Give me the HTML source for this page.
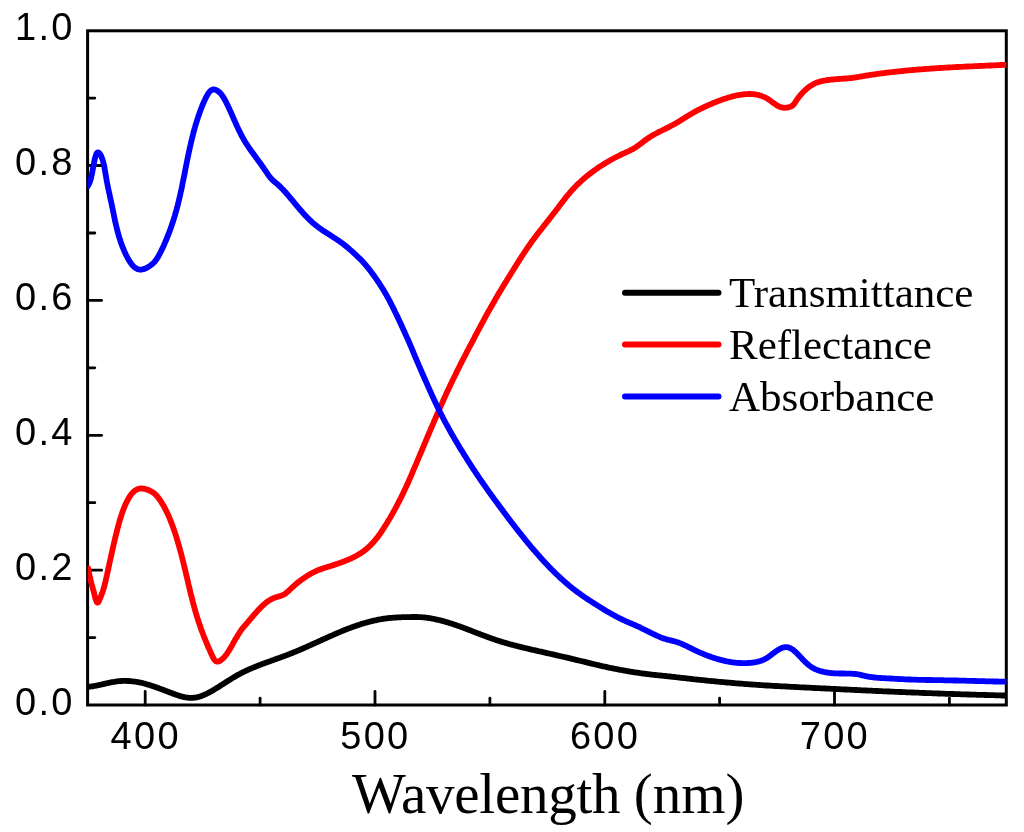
<!DOCTYPE html>
<html><head><meta charset="utf-8"><style>
html,body{margin:0;padding:0;background:#fff;width:1024px;height:832px;overflow:hidden}
svg{display:block;will-change:transform}
.sans{font-family:"Liberation Sans",sans-serif;font-size:38px;fill:#000;letter-spacing:2.3px}
.serif{font-family:"Liberation Serif",serif;fill:#000}
</style></head><body>
<svg width="1024" height="832" viewBox="0 0 1024 832">
<rect width="1024" height="832" fill="#fff"/>
<defs><clipPath id="pc"><rect x="87.6" y="30.8" width="918.7" height="674.2"/></clipPath></defs>
<g stroke="#000" stroke-width="2.8" stroke-linecap="round">
<line x1="145.2" y1="705.0" x2="145.2" y2="691.5"/>
<line x1="260.1" y1="705.0" x2="260.1" y2="698.2"/>
<line x1="375.0" y1="705.0" x2="375.0" y2="691.5"/>
<line x1="489.9" y1="705.0" x2="489.9" y2="698.2"/>
<line x1="604.8" y1="705.0" x2="604.8" y2="691.5"/>
<line x1="719.6" y1="705.0" x2="719.6" y2="698.2"/>
<line x1="834.5" y1="705.0" x2="834.5" y2="691.5"/>
<line x1="949.4" y1="705.0" x2="949.4" y2="698.2"/>
<line x1="87.6" y1="637.6" x2="94.8" y2="637.6"/>
<line x1="87.6" y1="570.2" x2="101.6" y2="570.2"/>
<line x1="87.6" y1="502.7" x2="94.8" y2="502.7"/>
<line x1="87.6" y1="435.3" x2="101.6" y2="435.3"/>
<line x1="87.6" y1="367.8" x2="94.8" y2="367.8"/>
<line x1="87.6" y1="300.4" x2="101.6" y2="300.4"/>
<line x1="87.6" y1="233.0" x2="94.8" y2="233.0"/>
<line x1="87.6" y1="165.5" x2="101.6" y2="165.5"/>
<line x1="87.6" y1="98.1" x2="94.8" y2="98.1"/>
</g>
<rect x="87.6" y="30.8" width="918.7" height="674.2" fill="none" stroke="#000" stroke-width="3"/>
<g fill="none" stroke-width="5.8" stroke-linejoin="round" stroke-linecap="round" clip-path="url(#pc)">
<path stroke="#000" d="M83.84 686.95L84.5 687.0L85.1 687.0L85.8 686.9L86.4 686.9L87.1 686.9L87.7 686.9L88.3 686.8L89.0 686.8L89.6 686.7L90.3 686.6L90.9 686.5L91.6 686.4L92.2 686.4L92.9 686.3L93.5 686.1L94.2 686.0L94.8 685.9L95.5 685.8L96.1 685.7L96.8 685.5L97.4 685.4L98.1 685.3L98.8 685.1L99.4 685.0L100.1 684.8L100.7 684.7L101.4 684.5L102.0 684.4L102.7 684.2L103.3 684.1L104.0 683.9L104.6 683.8L105.3 683.6L105.9 683.5L106.6 683.3L107.2 683.2L107.9 683.0L108.5 682.9L109.2 682.7L109.9 682.6L110.5 682.5L111.2 682.3L111.8 682.2L112.5 682.1L113.1 682.0L113.8 681.9L114.4 681.8L115.1 681.7L115.7 681.6L116.3 681.5L117.0 681.4L117.6 681.3L118.3 681.2L118.9 681.2L119.6 681.1L120.2 681.1L120.9 681.0L121.5 681.0L122.1 681.0L122.8 680.9L123.4 680.9L124.1 680.9L124.7 680.9L125.4 680.9L126.0 680.9L126.6 680.9L127.3 681.0L127.9 681.0L128.6 681.0L129.2 681.0L129.8 681.1L130.5 681.1L131.1 681.2L131.8 681.3L132.4 681.3L133.0 681.4L133.7 681.5L134.3 681.6L135.0 681.6L135.6 681.7L136.3 681.8L136.9 681.9L137.5 682.1L138.2 682.2L138.8 682.3L139.5 682.4L140.1 682.6L140.8 682.7L141.4 682.8L142.1 683.0L142.7 683.1L143.3 683.3L144.0 683.5L144.6 683.6L145.3 683.8L145.9 684.0L146.6 684.2L147.2 684.4L147.9 684.6L148.5 684.7L149.2 684.9L149.8 685.1L150.5 685.4L151.1 685.6L151.8 685.8L152.4 686.0L153.1 686.2L153.7 686.4L154.4 686.6L155.0 686.9L155.6 687.1L156.3 687.3L156.9 687.6L157.6 687.8L158.2 688.0L158.9 688.3L159.5 688.5L160.2 688.7L160.8 689.0L161.4 689.2L162.1 689.5L162.7 689.7L163.4 689.9L164.0 690.2L164.6 690.4L165.3 690.7L165.9 690.9L166.5 691.2L167.2 691.4L167.8 691.6L168.4 691.9L169.1 692.1L169.7 692.4L170.3 692.6L171.0 692.8L171.6 693.1L172.2 693.3L172.8 693.6L173.5 693.8L174.1 694.0L174.7 694.2L175.3 694.5L175.9 694.7L176.6 694.9L177.2 695.1L177.8 695.3L178.4 695.5L179.0 695.7L179.6 695.9L180.3 696.1L180.9 696.3L181.5 696.5L182.1 696.6L182.7 696.8L183.4 696.9L184.0 697.1L184.6 697.2L185.2 697.3L185.8 697.4L186.5 697.5L187.1 697.6L187.7 697.7L188.3 697.7L189.0 697.8L189.6 697.8L190.2 697.9L190.8 697.9L191.5 697.9L192.1 697.9L192.7 697.8L193.4 697.8L194.0 697.7L194.7 697.7L195.3 697.6L195.9 697.5L196.6 697.4L197.2 697.2L197.9 697.1L198.5 696.9L199.2 696.7L199.9 696.5L200.5 696.3L201.2 696.1L201.9 695.8L202.5 695.6L203.2 695.3L203.9 695.0L204.6 694.7L205.2 694.4L205.9 694.1L206.6 693.8L207.3 693.4L208.0 693.1L208.7 692.7L209.4 692.3L210.1 692.0L210.8 691.6L211.5 691.2L212.2 690.8L212.9 690.4L213.6 689.9L214.3 689.5L215.0 689.1L215.8 688.6L216.5 688.2L217.2 687.7L218.0 687.3L218.7 686.8L219.4 686.3L220.2 685.9L220.9 685.4L221.6 684.9L222.4 684.4L223.1 684.0L223.9 683.5L224.7 683.0L225.4 682.5L226.2 682.0L227.0 681.5L227.7 681.0L228.5 680.5L229.3 680.1L230.1 679.6L230.8 679.1L231.6 678.6L232.4 678.1L233.2 677.6L234.0 677.2L234.8 676.7L235.6 676.2L236.4 675.8L237.2 675.3L238.0 674.8L238.9 674.4L239.7 674.0L240.5 673.5L241.3 673.1L242.2 672.7L243.0 672.2L243.8 671.8L244.7 671.4L245.5 671.0L246.4 670.6L247.2 670.2L248.1 669.8L248.9 669.4L249.8 669.1L250.7 668.7L251.5 668.3L252.4 667.9L253.2 667.6L254.1 667.2L255.0 666.9L255.9 666.5L256.7 666.2L257.6 665.8L258.5 665.5L259.4 665.1L260.3 664.8L261.1 664.5L262.0 664.1L262.9 663.8L263.8 663.5L264.7 663.1L265.6 662.8L266.5 662.5L267.4 662.2L268.3 661.8L269.2 661.5L270.1 661.2L270.9 660.9L271.8 660.5L272.7 660.2L273.6 659.9L274.5 659.6L275.4 659.3L276.3 658.9L277.2 658.6L278.1 658.3L279.0 658.0L279.9 657.7L280.8 657.3L281.7 657.0L282.6 656.7L283.5 656.3L284.4 656.0L285.3 655.7L286.2 655.3L287.1 655.0L287.9 654.7L288.8 654.3L289.7 654.0L290.6 653.6L291.5 653.3L292.4 652.9L293.3 652.6L294.1 652.2L295.0 651.8L295.9 651.5L296.8 651.1L297.7 650.7L298.5 650.4L299.4 650.0L300.3 649.6L301.2 649.3L302.0 648.9L302.9 648.5L303.8 648.1L304.6 647.7L305.5 647.3L306.4 647.0L307.3 646.6L308.1 646.2L309.0 645.8L309.9 645.4L310.7 645.0L311.6 644.6L312.4 644.2L313.3 643.8L314.2 643.5L315.0 643.1L315.9 642.7L316.8 642.3L317.6 641.9L318.5 641.5L319.4 641.1L320.2 640.7L321.1 640.3L321.9 639.9L322.8 639.5L323.7 639.1L324.5 638.7L325.4 638.4L326.3 638.0L327.1 637.6L328.0 637.2L328.8 636.8L329.7 636.4L330.6 636.0L331.4 635.7L332.3 635.3L333.2 634.9L334.0 634.5L334.9 634.1L335.7 633.8L336.6 633.4L337.5 633.0L338.3 632.7L339.2 632.3L340.1 631.9L340.9 631.6L341.8 631.2L342.7 630.8L343.5 630.5L344.4 630.1L345.3 629.8L346.2 629.4L347.0 629.1L347.9 628.8L348.8 628.4L349.7 628.1L350.5 627.8L351.4 627.4L352.3 627.1L353.2 626.8L354.0 626.5L354.9 626.2L355.8 625.9L356.7 625.6L357.6 625.3L358.5 625.0L359.4 624.7L360.2 624.4L361.1 624.1L362.0 623.8L362.9 623.5L363.8 623.3L364.7 623.0L365.6 622.8L366.5 622.5L367.4 622.3L368.3 622.0L369.2 621.8L370.1 621.5L371.0 621.3L371.9 621.1L372.8 620.9L373.7 620.7L374.7 620.5L375.6 620.3L376.5 620.1L377.4 619.9L378.3 619.7L379.3 619.5L380.2 619.3L381.1 619.2L382.0 619.0L383.0 618.9L383.9 618.7L384.8 618.6L385.8 618.5L386.7 618.4L387.7 618.2L388.6 618.1L389.5 618.0L390.5 617.9L391.4 617.8L392.4 617.8L393.3 617.7L394.3 617.6L395.2 617.6L396.2 617.5L397.1 617.4L398.1 617.4L399.0 617.3L399.9 617.3L400.9 617.3L401.8 617.2L402.7 617.2L403.6 617.2L404.5 617.2L405.5 617.1L406.4 617.1L407.2 617.1L408.1 617.1L409.0 617.1L409.9 617.1L410.7 617.1L411.6 617.0L412.4 617.0L413.3 617.0L414.1 617.0L414.9 617.0L415.7 617.0L416.5 617.0L417.3 617.0L418.2 617.1L419.0 617.1L419.8 617.1L420.6 617.2L421.4 617.2L422.2 617.3L423.1 617.3L423.9 617.4L424.7 617.5L425.6 617.6L426.4 617.7L427.3 617.8L428.2 617.9L429.0 618.1L429.9 618.2L430.8 618.3L431.6 618.5L432.5 618.7L433.4 618.8L434.3 619.0L435.2 619.2L436.0 619.4L436.9 619.6L437.8 619.8L438.7 620.0L439.6 620.2L440.5 620.4L441.4 620.7L442.3 620.9L443.2 621.1L444.1 621.4L445.0 621.6L445.9 621.9L446.8 622.2L447.7 622.4L448.6 622.7L449.5 623.0L450.4 623.3L451.3 623.5L452.1 623.8L453.0 624.1L453.9 624.4L454.8 624.7L455.7 625.0L456.6 625.3L457.5 625.7L458.4 626.0L459.3 626.3L460.2 626.6L461.1 626.9L462.0 627.3L462.9 627.6L463.7 627.9L464.6 628.3L465.5 628.6L466.4 628.9L467.3 629.3L468.2 629.6L469.1 630.0L470.0 630.3L470.9 630.6L471.8 631.0L472.6 631.3L473.5 631.7L474.4 632.0L475.3 632.4L476.2 632.7L477.1 633.1L478.0 633.4L478.9 633.7L479.8 634.1L480.7 634.4L481.6 634.8L482.4 635.1L483.3 635.4L484.2 635.8L485.1 636.1L486.0 636.4L486.9 636.8L487.8 637.1L488.7 637.4L489.6 637.7L490.5 638.1L491.4 638.4L492.3 638.7L493.2 639.0L494.0 639.3L494.9 639.6L495.8 639.9L496.7 640.2L497.6 640.5L498.5 640.8L499.4 641.1L500.3 641.4L501.2 641.6L502.1 641.9L503.0 642.2L503.9 642.5L504.8 642.7L505.7 643.0L506.6 643.2L507.5 643.5L508.4 643.8L509.3 644.0L510.2 644.3L511.2 644.5L512.1 644.8L513.0 645.0L513.9 645.2L514.8 645.5L515.7 645.7L516.6 646.0L517.5 646.2L518.5 646.4L519.4 646.7L520.3 646.9L521.2 647.1L522.2 647.3L523.1 647.6L524.0 647.8L524.9 648.0L525.9 648.2L526.8 648.5L527.8 648.7L528.7 648.9L529.6 649.1L530.6 649.3L531.5 649.6L532.5 649.8L533.4 650.0L534.4 650.2L535.3 650.4L536.3 650.6L537.2 650.9L538.2 651.1L539.2 651.3L540.1 651.5L541.1 651.7L542.1 651.9L543.0 652.2L544.0 652.4L545.0 652.6L546.0 652.8L547.0 653.1L548.0 653.3L549.0 653.5L549.9 653.7L550.9 654.0L551.9 654.2L552.9 654.4L553.9 654.6L555.0 654.9L556.0 655.1L557.0 655.3L558.0 655.6L559.0 655.8L560.0 656.0L561.0 656.3L562.0 656.5L563.0 656.7L564.0 657.0L565.0 657.2L566.1 657.4L567.1 657.7L568.1 657.9L569.1 658.2L570.1 658.4L571.1 658.6L572.1 658.9L573.1 659.1L574.1 659.3L575.1 659.6L576.0 659.8L577.0 660.1L578.0 660.3L579.0 660.5L580.0 660.8L580.9 661.0L581.9 661.2L582.9 661.5L583.8 661.7L584.8 661.9L585.8 662.2L586.7 662.4L587.7 662.7L588.6 662.9L589.6 663.1L590.5 663.3L591.5 663.6L592.5 663.8L593.4 664.0L594.4 664.3L595.3 664.5L596.3 664.7L597.2 665.0L598.2 665.2L599.2 665.4L600.1 665.6L601.1 665.8L602.0 666.1L603.0 666.3L604.0 666.5L605.0 666.7L606.0 666.9L606.9 667.1L607.9 667.4L608.9 667.6L609.9 667.8L610.9 668.0L611.9 668.2L612.9 668.4L613.9 668.6L615.0 668.8L616.0 669.0L617.0 669.2L618.0 669.4L619.0 669.6L620.0 669.8L621.1 670.0L622.1 670.2L623.1 670.4L624.1 670.5L625.2 670.7L626.2 670.9L627.2 671.1L628.2 671.3L629.3 671.4L630.3 671.6L631.3 671.8L632.4 671.9L633.4 672.1L634.4 672.3L635.4 672.4L636.4 672.6L637.5 672.7L638.5 672.9L639.5 673.0L640.5 673.2L641.5 673.3L642.5 673.5L643.5 673.6L644.5 673.7L645.5 673.9L646.5 674.0L647.5 674.1L648.5 674.2L649.5 674.3L650.5 674.5L651.5 674.6L652.4 674.7L653.4 674.8L654.4 674.9L655.3 675.0L656.3 675.1L657.3 675.2L658.2 675.3L659.2 675.4L660.2 675.5L661.2 675.6L662.2 675.7L663.3 675.8L664.3 675.9L665.4 676.0L666.5 676.1L667.6 676.3L668.8 676.4L669.9 676.5L671.1 676.6L672.3 676.8L673.5 676.9L674.7 677.0L676.0 677.2L677.3 677.3L678.5 677.5L679.8 677.6L681.1 677.8L682.5 677.9L683.8 678.1L685.2 678.2L686.5 678.4L687.9 678.6L689.3 678.7L690.6 678.9L692.0 679.0L693.4 679.2L694.8 679.3L696.2 679.5L697.7 679.6L699.1 679.8L700.5 679.9L701.9 680.1L703.4 680.2L704.8 680.4L706.3 680.5L707.7 680.7L709.2 680.8L710.6 681.0L712.1 681.1L713.6 681.2L715.0 681.4L716.5 681.5L718.0 681.7L719.5 681.8L721.0 681.9L722.4 682.1L723.9 682.2L725.4 682.4L726.9 682.5L728.4 682.6L729.9 682.7L731.3 682.9L732.8 683.0L734.3 683.1L735.8 683.3L737.3 683.4L738.8 683.5L740.2 683.6L741.7 683.7L743.2 683.8L744.7 684.0L746.2 684.1L747.6 684.2L749.1 684.3L750.6 684.4L752.0 684.5L753.5 684.6L754.9 684.7L756.4 684.8L757.8 684.9L759.3 685.0L760.7 685.1L762.1 685.2L763.6 685.3L765.0 685.4L766.5 685.5L767.9 685.5L769.4 685.6L770.8 685.7L772.3 685.8L773.8 685.9L775.2 686.0L776.7 686.0L778.2 686.1L779.7 686.2L781.2 686.3L782.7 686.4L784.3 686.4L785.8 686.5L787.4 686.6L788.9 686.7L790.5 686.8L792.1 686.9L793.7 686.9L795.3 687.0L796.9 687.1L798.5 687.2L800.1 687.3L801.7 687.3L803.4 687.4L805.0 687.5L806.6 687.6L808.2 687.7L809.8 687.7L811.4 687.8L813.0 687.9L814.6 688.0L816.2 688.1L817.7 688.1L819.3 688.2L820.8 688.3L822.4 688.4L823.9 688.4L825.4 688.5L826.9 688.6L828.3 688.7L829.8 688.7L831.2 688.8L832.7 688.9L834.1 688.9L835.5 689.0L836.8 689.1L838.2 689.1L839.6 689.2L840.9 689.3L842.3 689.3L843.6 689.4L844.9 689.5L846.2 689.5L847.6 689.6L848.9 689.7L850.1 689.7L851.4 689.8L852.7 689.8L854.0 689.9L855.3 690.0L856.5 690.0L857.8 690.1L859.0 690.1L860.3 690.2L861.5 690.3L862.8 690.3L864.0 690.4L865.3 690.4L866.5 690.5L867.8 690.6L869.0 690.6L870.3 690.7L871.6 690.7L872.8 690.8L874.1 690.9L875.3 690.9L876.6 691.0L877.9 691.0L879.2 691.1L880.4 691.1L881.7 691.2L883.0 691.3L884.3 691.3L885.6 691.4L886.9 691.4L888.2 691.5L889.5 691.5L890.8 691.6L892.1 691.7L893.4 691.7L894.7 691.8L896.0 691.8L897.3 691.9L898.6 691.9L899.9 692.0L901.3 692.0L902.6 692.1L903.9 692.2L905.2 692.2L906.5 692.3L907.8 692.3L909.2 692.4L910.5 692.4L911.8 692.5L913.1 692.5L914.4 692.6L915.7 692.6L917.1 692.7L918.4 692.7L919.7 692.8L921.0 692.8L922.3 692.9L923.6 693.0L924.9 693.0L926.2 693.1L927.5 693.1L928.8 693.1L930.1 693.2L931.4 693.2L932.7 693.3L934.0 693.3L935.3 693.4L936.6 693.4L937.9 693.5L939.2 693.5L940.4 693.6L941.7 693.6L943.0 693.7L944.3 693.7L945.6 693.8L946.9 693.8L948.2 693.8L949.5 693.9L950.8 693.9L952.1 694.0L953.4 694.0L954.7 694.1L956.0 694.1L957.3 694.1L958.6 694.2L959.9 694.2L961.2 694.3L962.5 694.3L963.8 694.4L965.1 694.4L966.4 694.4L967.8 694.5L969.1 694.5L970.4 694.6L971.7 694.6L973.1 694.6L974.4 694.7L975.8 694.7L977.1 694.8L978.5 694.8L979.8 694.8L981.2 694.9L982.5 694.9L983.8 694.9L985.2 695.0L986.5 695.0L987.8 695.1L989.1 695.1L990.4 695.1L991.7 695.2L992.9 695.2L994.1 695.2L995.3 695.3L996.5 695.3L997.7 695.3L998.8 695.4L999.9 695.4L1001.0 695.4L1002.0 695.5L1003.0 695.5L1004.0 695.5L1004.9 695.5L1005.8 695.6L1006.6 695.6L1007.4 695.6L1008.2 695.6L1008.9 695.7L1009.5 695.7L1010.1 695.7"/>
<path stroke="#f00" d="M88.30 568.49L88.5 569.5L88.7 570.5L88.8 571.5L89.0 572.5L89.2 573.5L89.4 574.5L89.6 575.5L89.8 576.4L90.0 577.3L90.2 578.3L90.4 579.1L90.6 580.0L90.8 580.8L91.0 581.6L91.2 582.4L91.4 583.2L91.6 583.9L91.8 584.7L92.0 585.4L92.2 586.1L92.4 586.8L92.5 587.5L92.7 588.1L92.9 588.8L93.1 589.5L93.3 590.3L93.5 591.0L93.8 591.8L94.0 592.6L94.2 593.4L94.4 594.3L94.6 595.3L94.9 596.3L95.1 597.3L95.4 598.3L95.7 599.3L96.0 600.2L96.3 601.0L96.6 601.7L96.9 602.2L97.2 602.6L97.5 602.7L97.8 602.6L98.2 602.3L98.5 601.8L98.9 601.2L99.2 600.5L99.6 599.7L99.9 598.8L100.3 598.0L100.6 597.1L100.9 596.3L101.2 595.6L101.5 594.8L101.7 594.2L102.0 593.5L102.2 592.8L102.5 592.2L102.7 591.6L102.9 590.9L103.1 590.3L103.3 589.7L103.5 589.0L103.7 588.3L103.9 587.6L104.1 587.0L104.3 586.3L104.5 585.6L104.7 584.8L104.9 584.1L105.0 583.4L105.2 582.6L105.4 581.9L105.6 581.1L105.8 580.3L105.9 579.5L106.1 578.7L106.3 577.9L106.5 577.1L106.7 576.3L106.8 575.4L107.0 574.6L107.2 573.7L107.4 572.9L107.6 572.0L107.8 571.1L108.0 570.2L108.2 569.3L108.4 568.4L108.6 567.5L108.8 566.5L109.0 565.6L109.2 564.6L109.4 563.7L109.6 562.7L109.8 561.8L110.0 560.8L110.2 559.8L110.5 558.9L110.7 557.9L110.9 556.9L111.1 555.9L111.3 554.9L111.6 553.9L111.8 552.9L112.0 551.9L112.2 550.9L112.5 549.9L112.7 548.9L112.9 547.8L113.1 546.8L113.4 545.8L113.6 544.8L113.8 543.8L114.1 542.8L114.3 541.7L114.6 540.7L114.8 539.7L115.0 538.7L115.3 537.7L115.5 536.6L115.8 535.6L116.0 534.6L116.3 533.6L116.5 532.6L116.8 531.6L117.0 530.6L117.3 529.6L117.5 528.6L117.8 527.6L118.1 526.7L118.3 525.7L118.6 524.7L118.8 523.7L119.1 522.8L119.4 521.8L119.6 520.9L119.9 519.9L120.2 519.0L120.5 518.0L120.8 517.1L121.1 516.2L121.4 515.2L121.7 514.3L122.0 513.4L122.3 512.5L122.6 511.6L122.9 510.7L123.3 509.9L123.6 509.0L123.9 508.1L124.3 507.3L124.6 506.4L125.0 505.6L125.4 504.7L125.7 503.9L126.1 503.1L126.5 502.3L126.9 501.5L127.3 500.7L127.8 499.9L128.2 499.1L128.6 498.3L129.1 497.6L129.5 496.8L130.0 496.1L130.5 495.4L131.0 494.7L131.5 494.0L132.0 493.4L132.6 492.7L133.2 492.2L133.7 491.6L134.4 491.1L135.0 490.6L135.6 490.2L136.3 489.8L137.0 489.4L137.7 489.1L138.5 488.9L139.3 488.7L140.1 488.6L140.9 488.5L141.8 488.5L142.7 488.6L143.6 488.7L144.6 488.9L145.5 489.1L146.5 489.4L147.4 489.7L148.3 490.1L149.3 490.4L150.2 490.9L151.0 491.3L151.9 491.8L152.6 492.3L153.4 492.8L154.1 493.4L154.8 493.9L155.4 494.5L156.0 495.1L156.6 495.7L157.1 496.4L157.7 497.0L158.2 497.7L158.7 498.3L159.2 499.0L159.7 499.7L160.2 500.4L160.7 501.1L161.2 501.9L161.6 502.6L162.1 503.4L162.6 504.2L163.1 505.0L163.5 505.8L164.0 506.6L164.4 507.4L164.9 508.2L165.3 509.1L165.7 509.9L166.2 510.8L166.6 511.7L167.0 512.5L167.4 513.4L167.9 514.3L168.3 515.2L168.7 516.1L169.1 517.1L169.5 518.0L169.9 518.9L170.2 519.9L170.6 520.8L171.0 521.8L171.4 522.7L171.7 523.7L172.1 524.7L172.5 525.6L172.8 526.6L173.2 527.6L173.5 528.6L173.9 529.6L174.2 530.6L174.6 531.5L174.9 532.5L175.2 533.5L175.5 534.5L175.9 535.5L176.2 536.5L176.5 537.5L176.8 538.5L177.1 539.6L177.4 540.6L177.7 541.6L178.0 542.6L178.3 543.6L178.6 544.6L178.9 545.6L179.2 546.6L179.4 547.6L179.7 548.6L180.0 549.6L180.3 550.6L180.5 551.5L180.8 552.5L181.1 553.5L181.3 554.5L181.6 555.5L181.8 556.5L182.1 557.5L182.3 558.5L182.6 559.5L182.8 560.5L183.1 561.5L183.3 562.4L183.6 563.4L183.8 564.4L184.0 565.4L184.3 566.4L184.5 567.4L184.8 568.4L185.0 569.3L185.2 570.3L185.5 571.3L185.7 572.3L185.9 573.3L186.1 574.2L186.4 575.2L186.6 576.2L186.8 577.2L187.1 578.2L187.3 579.1L187.5 580.1L187.8 581.1L188.0 582.1L188.2 583.1L188.4 584.0L188.7 585.0L188.9 586.0L189.1 587.0L189.4 588.0L189.6 588.9L189.8 589.9L190.1 590.9L190.3 591.9L190.5 592.8L190.8 593.8L191.0 594.8L191.3 595.8L191.5 596.7L191.8 597.7L192.0 598.7L192.3 599.7L192.5 600.6L192.8 601.6L193.0 602.6L193.3 603.6L193.5 604.6L193.8 605.5L194.1 606.5L194.3 607.5L194.6 608.5L194.9 609.4L195.2 610.4L195.4 611.4L195.7 612.4L196.0 613.4L196.3 614.3L196.6 615.3L196.9 616.3L197.2 617.3L197.5 618.3L197.8 619.2L198.1 620.2L198.4 621.2L198.8 622.2L199.1 623.2L199.4 624.2L199.7 625.1L200.1 626.1L200.4 627.1L200.8 628.1L201.1 629.1L201.5 630.1L201.8 631.1L202.2 632.0L202.6 633.0L203.0 634.0L203.3 635.0L203.7 636.0L204.1 637.0L204.5 638.0L204.9 638.9L205.3 639.9L205.7 640.9L206.1 641.9L206.5 642.8L206.9 643.8L207.3 644.8L207.7 645.7L208.1 646.7L208.5 647.6L209.0 648.6L209.4 649.5L209.8 650.4L210.2 651.3L210.6 652.3L211.0 653.2L211.4 654.1L211.8 655.0L212.3 655.9L212.7 656.7L213.1 657.6L213.5 658.4L213.9 659.1L214.4 659.8L214.9 660.3L215.3 660.8L215.8 661.2L216.4 661.5L216.9 661.6L217.5 661.7L218.1 661.6L218.7 661.4L219.3 661.2L219.9 660.9L220.5 660.5L221.1 660.1L221.7 659.6L222.3 659.1L222.9 658.6L223.5 658.0L224.0 657.4L224.6 656.8L225.1 656.1L225.7 655.4L226.2 654.7L226.8 653.9L227.3 653.2L227.8 652.4L228.4 651.5L228.9 650.7L229.4 649.8L230.0 648.9L230.5 648.0L231.0 647.1L231.6 646.2L232.1 645.2L232.6 644.3L233.2 643.3L233.7 642.3L234.3 641.3L234.9 640.3L235.4 639.3L236.0 638.3L236.6 637.4L237.2 636.4L237.7 635.4L238.3 634.5L238.9 633.6L239.5 632.7L240.0 631.8L240.6 631.0L241.1 630.2L241.7 629.5L242.2 628.7L242.7 628.1L243.3 627.4L243.8 626.8L244.3 626.2L244.9 625.6L245.4 625.0L245.9 624.4L246.4 623.8L247.0 623.1L247.5 622.5L248.1 621.9L248.6 621.2L249.2 620.6L249.7 619.9L250.3 619.3L250.8 618.6L251.4 617.9L252.0 617.2L252.6 616.6L253.1 615.9L253.7 615.2L254.3 614.5L254.9 613.8L255.5 613.1L256.1 612.5L256.7 611.8L257.3 611.1L257.9 610.4L258.5 609.8L259.1 609.1L259.8 608.5L260.4 607.8L261.0 607.2L261.6 606.6L262.3 606.0L262.9 605.4L263.6 604.8L264.2 604.2L264.8 603.7L265.5 603.1L266.1 602.6L266.8 602.1L267.5 601.6L268.1 601.1L268.8 600.7L269.5 600.3L270.1 599.9L270.8 599.5L271.5 599.1L272.1 598.8L272.8 598.5L273.5 598.2L274.2 597.9L274.9 597.7L275.6 597.4L276.3 597.2L276.9 597.0L277.6 596.8L278.3 596.6L279.0 596.4L279.7 596.2L280.3 596.0L281.0 595.7L281.7 595.5L282.3 595.2L283.0 594.9L283.6 594.6L284.2 594.3L284.9 593.9L285.5 593.5L286.1 593.0L286.7 592.5L287.3 592.0L287.9 591.5L288.5 590.9L289.1 590.4L289.7 589.8L290.3 589.3L290.9 588.7L291.5 588.1L292.1 587.5L292.7 587.0L293.3 586.4L293.9 585.9L294.6 585.3L295.2 584.8L295.8 584.2L296.5 583.7L297.1 583.2L297.8 582.7L298.4 582.1L299.1 581.6L299.7 581.1L300.4 580.6L301.0 580.1L301.7 579.6L302.4 579.2L303.0 578.7L303.7 578.2L304.3 577.8L305.0 577.3L305.7 576.9L306.3 576.5L307.0 576.0L307.6 575.6L308.3 575.2L309.0 574.8L309.6 574.4L310.3 574.0L310.9 573.7L311.6 573.3L312.2 573.0L312.8 572.6L313.5 572.3L314.1 572.0L314.7 571.7L315.4 571.4L316.0 571.1L316.6 570.8L317.2 570.5L317.8 570.3L318.4 570.0L319.0 569.8L319.7 569.6L320.3 569.3L320.9 569.1L321.6 568.9L322.2 568.7L322.9 568.4L323.6 568.2L324.3 568.0L325.0 567.8L325.7 567.5L326.5 567.3L327.3 567.0L328.1 566.8L328.9 566.5L329.8 566.3L330.7 566.0L331.6 565.7L332.5 565.4L333.5 565.1L334.5 564.8L335.4 564.4L336.4 564.1L337.5 563.8L338.5 563.4L339.5 563.0L340.5 562.7L341.6 562.3L342.6 561.9L343.7 561.5L344.7 561.1L345.7 560.7L346.8 560.3L347.8 559.9L348.8 559.5L349.8 559.0L350.8 558.6L351.8 558.1L352.7 557.7L353.7 557.2L354.6 556.7L355.5 556.3L356.4 555.8L357.3 555.3L358.1 554.8L359.0 554.3L359.8 553.8L360.6 553.3L361.4 552.7L362.2 552.2L362.9 551.7L363.7 551.1L364.4 550.6L365.1 550.0L365.9 549.4L366.5 548.9L367.2 548.3L367.9 547.7L368.6 547.1L369.2 546.5L369.9 545.9L370.5 545.3L371.1 544.6L371.7 544.0L372.3 543.4L372.9 542.7L373.5 542.1L374.1 541.4L374.7 540.7L375.2 540.1L375.8 539.4L376.3 538.7L376.9 538.0L377.4 537.3L378.0 536.6L378.5 535.8L379.0 535.1L379.6 534.4L380.1 533.6L380.6 532.9L381.1 532.1L381.6 531.4L382.2 530.6L382.7 529.8L383.2 529.0L383.7 528.2L384.2 527.4L384.7 526.6L385.2 525.8L385.8 525.0L386.3 524.2L386.8 523.3L387.3 522.5L387.8 521.6L388.3 520.8L388.8 519.9L389.4 519.0L389.9 518.2L390.4 517.3L390.9 516.4L391.4 515.5L391.9 514.7L392.4 513.8L392.9 512.9L393.4 512.0L393.9 511.1L394.4 510.2L394.9 509.3L395.4 508.3L395.9 507.4L396.4 506.5L396.9 505.6L397.4 504.7L397.8 503.8L398.3 502.9L398.8 501.9L399.3 501.0L399.7 500.1L400.2 499.2L400.7 498.3L401.1 497.4L401.6 496.4L402.0 495.5L402.5 494.6L402.9 493.7L403.3 492.8L403.8 491.9L404.2 491.0L404.6 490.0L405.1 489.1L405.5 488.2L405.9 487.3L406.4 486.3L406.8 485.4L407.2 484.5L407.6 483.5L408.1 482.6L408.5 481.6L408.9 480.6L409.3 479.7L409.8 478.7L410.2 477.7L410.6 476.7L411.1 475.7L411.5 474.6L412.0 473.6L412.4 472.5L412.9 471.4L413.4 470.3L413.8 469.2L414.3 468.1L414.8 467.0L415.3 465.8L415.8 464.7L416.3 463.5L416.8 462.3L417.3 461.1L417.8 459.9L418.3 458.6L418.8 457.4L419.4 456.2L419.9 454.9L420.4 453.6L421.0 452.4L421.5 451.1L422.1 449.8L422.6 448.5L423.1 447.2L423.7 445.9L424.2 444.6L424.8 443.3L425.4 442.0L425.9 440.6L426.5 439.3L427.0 438.0L427.6 436.7L428.1 435.4L428.7 434.0L429.3 432.7L429.8 431.4L430.4 430.1L430.9 428.8L431.5 427.5L432.0 426.2L432.6 424.9L433.2 423.6L433.7 422.3L434.3 421.0L434.8 419.7L435.4 418.4L435.9 417.1L436.5 415.9L437.0 414.6L437.6 413.3L438.1 412.1L438.7 410.8L439.2 409.5L439.8 408.3L440.3 407.0L440.9 405.7L441.5 404.5L442.0 403.2L442.6 402.0L443.2 400.7L443.7 399.4L444.3 398.1L444.9 396.9L445.5 395.6L446.0 394.3L446.6 393.0L447.2 391.7L447.8 390.4L448.4 389.2L449.1 387.8L449.7 386.5L450.3 385.2L450.9 383.9L451.6 382.6L452.2 381.2L452.8 379.9L453.5 378.6L454.2 377.2L454.8 375.8L455.5 374.5L456.2 373.1L456.8 371.7L457.5 370.4L458.2 369.0L458.9 367.6L459.6 366.2L460.3 364.8L461.0 363.4L461.7 362.0L462.4 360.6L463.1 359.2L463.8 357.9L464.6 356.5L465.3 355.1L466.0 353.7L466.7 352.3L467.4 350.9L468.1 349.6L468.8 348.2L469.5 346.8L470.3 345.5L471.0 344.1L471.7 342.8L472.4 341.5L473.1 340.1L473.8 338.8L474.5 337.5L475.1 336.2L475.8 334.9L476.5 333.6L477.2 332.4L477.8 331.1L478.5 329.9L479.2 328.6L479.8 327.4L480.5 326.2L481.1 325.0L481.7 323.8L482.4 322.7L483.0 321.5L483.6 320.4L484.2 319.2L484.8 318.1L485.4 317.0L486.0 315.9L486.6 314.8L487.2 313.7L487.8 312.6L488.4 311.6L489.0 310.5L489.6 309.5L490.2 308.4L490.7 307.4L491.3 306.4L491.9 305.4L492.5 304.4L493.0 303.4L493.6 302.4L494.2 301.4L494.7 300.4L495.3 299.4L495.8 298.5L496.4 297.5L497.0 296.6L497.5 295.6L498.1 294.7L498.6 293.7L499.2 292.8L499.7 291.9L500.3 290.9L500.9 290.0L501.4 289.1L502.0 288.2L502.5 287.3L503.1 286.4L503.6 285.5L504.2 284.6L504.7 283.7L505.3 282.8L505.8 281.9L506.4 281.0L506.9 280.1L507.5 279.2L508.0 278.3L508.6 277.4L509.1 276.5L509.7 275.7L510.2 274.8L510.8 273.9L511.3 273.0L511.9 272.1L512.4 271.2L513.0 270.4L513.5 269.5L514.1 268.6L514.6 267.7L515.2 266.8L515.7 265.9L516.3 265.1L516.8 264.2L517.4 263.3L518.0 262.4L518.5 261.5L519.1 260.6L519.6 259.7L520.2 258.9L520.8 258.0L521.4 257.1L521.9 256.2L522.5 255.3L523.1 254.4L523.7 253.5L524.2 252.7L524.8 251.8L525.4 250.9L526.0 250.0L526.6 249.1L527.2 248.2L527.8 247.3L528.4 246.5L529.1 245.6L529.7 244.7L530.3 243.8L530.9 242.9L531.6 242.0L532.2 241.1L532.8 240.2L533.5 239.3L534.2 238.5L534.8 237.6L535.5 236.7L536.1 235.8L536.8 234.9L537.5 234.0L538.2 233.1L538.9 232.2L539.6 231.3L540.3 230.4L541.0 229.6L541.7 228.7L542.4 227.8L543.1 226.9L543.8 226.0L544.5 225.1L545.2 224.2L545.9 223.3L546.6 222.4L547.3 221.5L548.0 220.7L548.7 219.8L549.4 218.9L550.1 218.0L550.8 217.1L551.5 216.2L552.2 215.3L552.9 214.4L553.6 213.5L554.3 212.7L555.0 211.8L555.7 210.9L556.3 210.0L557.0 209.1L557.7 208.2L558.3 207.4L559.0 206.5L559.6 205.6L560.3 204.7L561.0 203.8L561.6 203.0L562.3 202.1L563.0 201.2L563.6 200.4L564.3 199.5L565.0 198.6L565.6 197.8L566.3 196.9L567.0 196.1L567.7 195.2L568.4 194.4L569.1 193.6L569.8 192.7L570.5 191.9L571.2 191.1L572.0 190.3L572.7 189.4L573.5 188.6L574.2 187.8L575.0 187.0L575.8 186.2L576.5 185.4L577.3 184.7L578.1 183.9L578.9 183.1L579.8 182.3L580.6 181.6L581.4 180.8L582.3 180.1L583.1 179.3L583.9 178.6L584.8 177.9L585.7 177.1L586.5 176.4L587.4 175.7L588.3 175.0L589.2 174.3L590.1 173.6L591.0 172.9L591.9 172.2L592.8 171.6L593.7 170.9L594.6 170.2L595.5 169.6L596.5 168.9L597.4 168.3L598.3 167.6L599.3 167.0L600.2 166.4L601.1 165.8L602.1 165.2L603.0 164.6L604.0 164.0L604.9 163.4L605.9 162.8L606.8 162.3L607.8 161.7L608.7 161.1L609.7 160.6L610.6 160.0L611.6 159.5L612.5 159.0L613.5 158.5L614.4 158.0L615.4 157.5L616.4 157.0L617.3 156.5L618.3 156.0L619.2 155.5L620.2 155.1L621.1 154.6L622.0 154.2L623.0 153.7L623.9 153.3L624.9 152.9L625.8 152.5L626.7 152.0L627.7 151.6L628.6 151.2L629.5 150.8L630.4 150.3L631.3 149.8L632.3 149.4L633.2 148.9L634.1 148.3L635.0 147.8L635.9 147.2L636.7 146.6L637.6 146.0L638.5 145.3L639.4 144.7L640.3 144.0L641.2 143.3L642.1 142.6L643.0 142.0L643.8 141.3L644.7 140.6L645.6 139.9L646.6 139.3L647.5 138.6L648.4 138.0L649.3 137.4L650.3 136.8L651.2 136.2L652.2 135.6L653.1 135.1L654.1 134.5L655.1 134.0L656.0 133.5L657.0 133.0L658.0 132.4L658.9 131.9L659.9 131.5L660.9 131.0L661.9 130.5L662.8 130.0L663.8 129.5L664.8 129.1L665.7 128.6L666.7 128.1L667.6 127.6L668.6 127.2L669.5 126.7L670.4 126.2L671.4 125.7L672.3 125.2L673.2 124.8L674.1 124.3L675.0 123.8L675.8 123.3L676.7 122.7L677.6 122.2L678.4 121.7L679.3 121.2L680.1 120.7L681.0 120.2L681.8 119.6L682.7 119.1L683.5 118.6L684.3 118.1L685.2 117.5L686.0 117.0L686.8 116.5L687.7 116.0L688.5 115.5L689.3 115.0L690.2 114.5L691.0 114.0L691.9 113.5L692.7 113.0L693.6 112.5L694.4 112.0L695.3 111.5L696.2 111.1L697.0 110.6L697.9 110.1L698.8 109.7L699.7 109.2L700.6 108.8L701.5 108.4L702.4 107.9L703.4 107.5L704.3 107.0L705.2 106.6L706.1 106.2L707.1 105.8L708.0 105.3L709.0 104.9L709.9 104.5L710.9 104.1L711.9 103.7L712.8 103.2L713.8 102.8L714.8 102.4L715.7 102.1L716.7 101.7L717.7 101.3L718.7 100.9L719.7 100.5L720.7 100.2L721.6 99.8L722.6 99.5L723.6 99.1L724.6 98.8L725.6 98.5L726.6 98.1L727.6 97.8L728.5 97.5L729.5 97.3L730.5 97.0L731.5 96.7L732.5 96.4L733.5 96.2L734.4 96.0L735.4 95.7L736.4 95.5L737.3 95.3L738.3 95.1L739.2 95.0L740.2 94.8L741.1 94.7L742.1 94.5L743.0 94.4L743.9 94.3L744.9 94.2L745.8 94.2L746.7 94.1L747.6 94.1L748.5 94.0L749.4 94.0L750.2 94.0L751.1 94.1L752.0 94.1L752.8 94.2L753.7 94.2L754.5 94.3L755.3 94.4L756.2 94.6L757.0 94.7L757.8 94.9L758.6 95.1L759.3 95.3L760.1 95.5L760.9 95.8L761.6 96.0L762.4 96.3L763.1 96.6L763.9 96.9L764.6 97.2L765.3 97.6L766.0 97.9L766.7 98.3L767.4 98.7L768.1 99.2L768.8 99.6L769.4 100.0L770.1 100.5L770.8 101.0L771.4 101.5L772.1 101.9L772.7 102.4L773.3 102.9L774.0 103.3L774.6 103.8L775.2 104.2L775.9 104.7L776.5 105.1L777.1 105.5L777.8 105.9L778.4 106.2L779.0 106.5L779.7 106.8L780.3 107.0L780.9 107.2L781.6 107.4L782.2 107.6L782.9 107.7L783.6 107.7L784.3 107.8L785.0 107.8L785.7 107.7L786.5 107.7L787.2 107.6L788.0 107.4L788.8 107.2L789.5 107.0L790.3 106.8L791.0 106.5L791.6 106.1L792.2 105.8L792.8 105.3L793.3 104.9L793.8 104.4L794.2 103.8L794.6 103.3L795.0 102.7L795.4 102.1L795.8 101.4L796.2 100.8L796.6 100.1L797.1 99.4L797.6 98.7L798.1 98.0L798.7 97.3L799.2 96.6L799.8 95.9L800.4 95.2L801.0 94.5L801.6 93.8L802.2 93.1L802.8 92.5L803.4 91.8L804.0 91.2L804.7 90.6L805.3 90.1L805.9 89.5L806.5 89.0L807.1 88.4L807.7 87.9L808.4 87.4L809.0 87.0L809.6 86.5L810.2 86.1L810.9 85.7L811.5 85.3L812.1 84.9L812.8 84.5L813.4 84.2L814.0 83.9L814.7 83.5L815.3 83.2L816.0 83.0L816.6 82.7L817.3 82.4L818.0 82.2L818.6 82.0L819.3 81.8L820.0 81.6L820.7 81.4L821.4 81.2L822.1 81.0L822.9 80.9L823.6 80.7L824.4 80.6L825.1 80.5L825.9 80.3L826.6 80.2L827.4 80.1L828.2 80.0L829.0 79.9L829.8 79.8L830.6 79.7L831.4 79.6L832.2 79.5L833.0 79.5L833.8 79.4L834.6 79.3L835.4 79.2L836.3 79.2L837.1 79.1L837.9 79.1L838.7 79.0L839.5 78.9L840.4 78.9L841.2 78.8L842.0 78.8L842.8 78.7L843.7 78.7L844.5 78.6L845.3 78.5L846.1 78.5L846.9 78.4L847.7 78.3L848.5 78.3L849.3 78.2L850.1 78.1L850.8 78.0L851.6 78.0L852.4 77.9L853.1 77.8L853.9 77.7L854.7 77.6L855.4 77.4L856.2 77.3L856.9 77.2L857.7 77.1L858.4 77.0L859.2 76.8L859.9 76.7L860.7 76.6L861.5 76.4L862.3 76.3L863.1 76.2L863.9 76.0L864.7 75.9L865.6 75.7L866.4 75.6L867.3 75.4L868.2 75.3L869.1 75.1L870.0 75.0L871.0 74.8L871.9 74.7L872.9 74.6L873.9 74.4L874.9 74.3L876.0 74.1L877.0 74.0L878.1 73.8L879.1 73.7L880.2 73.5L881.3 73.4L882.4 73.3L883.5 73.1L884.6 73.0L885.7 72.9L886.8 72.7L887.9 72.6L889.1 72.4L890.2 72.3L891.3 72.2L892.5 72.1L893.6 71.9L894.8 71.8L895.9 71.7L897.1 71.6L898.2 71.4L899.3 71.3L900.5 71.2L901.6 71.1L902.7 71.0L903.9 70.9L905.0 70.7L906.1 70.6L907.3 70.5L908.4 70.4L909.5 70.3L910.7 70.2L911.8 70.1L912.9 70.0L914.1 69.9L915.2 69.8L916.3 69.7L917.4 69.6L918.6 69.5L919.7 69.4L920.8 69.4L922.0 69.3L923.1 69.2L924.2 69.1L925.3 69.0L926.4 68.9L927.6 68.8L928.7 68.8L929.8 68.7L930.9 68.6L932.1 68.5L933.2 68.4L934.3 68.4L935.4 68.3L936.6 68.2L937.7 68.1L938.8 68.1L939.9 68.0L941.1 67.9L942.2 67.9L943.3 67.8L944.4 67.7L945.6 67.7L946.7 67.6L947.8 67.5L948.9 67.5L950.1 67.4L951.2 67.3L952.3 67.3L953.4 67.2L954.6 67.2L955.7 67.1L956.8 67.0L958.0 67.0L959.1 66.9L960.2 66.9L961.3 66.8L962.5 66.8L963.6 66.7L964.7 66.6L965.9 66.6L967.0 66.5L968.1 66.5L969.3 66.4L970.4 66.4L971.6 66.3L972.7 66.3L973.8 66.2L975.0 66.2L976.1 66.1L977.3 66.1L978.4 66.0L979.6 66.0L980.7 65.9L981.9 65.9L983.0 65.8L984.2 65.8L985.3 65.7L986.5 65.7L987.6 65.6L988.8 65.6L989.9 65.5L991.1 65.5L992.3 65.4L993.4 65.4L994.6 65.3L995.8 65.3L996.9 65.2L998.1 65.1L999.3 65.1L1000.4 65.0L1001.6 65.0L1002.8 64.9L1004.0 64.9L1005.1 64.8L1006.3 64.8L1007.5 64.7L1008.7 64.7L1009.9 64.6"/>
<path stroke="#00f" d="M88.00 185.92L88.3 185.2L88.7 184.6L89.0 183.9L89.3 183.2L89.6 182.5L89.9 181.7L90.1 181.0L90.4 180.2L90.6 179.4L90.9 178.5L91.1 177.6L91.3 176.7L91.5 175.7L91.8 174.8L92.0 173.7L92.2 172.7L92.4 171.6L92.6 170.5L92.8 169.4L93.0 168.2L93.2 167.0L93.4 165.9L93.7 164.6L93.9 163.4L94.1 162.2L94.4 161.0L94.6 159.8L94.9 158.6L95.2 157.5L95.5 156.5L95.8 155.5L96.1 154.7L96.4 153.9L96.7 153.3L97.1 152.8L97.4 152.5L97.8 152.3L98.2 152.3L98.6 152.5L99.0 152.8L99.4 153.2L99.8 153.7L100.2 154.2L100.6 154.9L100.9 155.6L101.3 156.3L101.6 157.1L101.9 157.9L102.2 158.7L102.5 159.5L102.8 160.4L103.0 161.3L103.3 162.2L103.5 163.2L103.7 164.1L104.0 165.1L104.2 166.1L104.4 167.1L104.6 168.2L104.7 169.2L104.9 170.3L105.1 171.3L105.3 172.4L105.5 173.4L105.6 174.5L105.8 175.5L106.0 176.6L106.2 177.6L106.4 178.7L106.5 179.7L106.7 180.8L106.9 181.8L107.1 182.8L107.3 183.8L107.5 184.8L107.7 185.9L107.9 186.9L108.1 187.9L108.3 188.8L108.5 189.8L108.7 190.8L108.9 191.8L109.2 192.8L109.4 193.8L109.6 194.7L109.8 195.7L110.0 196.7L110.2 197.7L110.4 198.6L110.6 199.6L110.8 200.6L111.1 201.5L111.3 202.5L111.5 203.5L111.7 204.5L111.9 205.4L112.1 206.4L112.3 207.4L112.5 208.3L112.7 209.3L112.9 210.3L113.1 211.3L113.3 212.3L113.5 213.2L113.7 214.2L113.9 215.2L114.1 216.2L114.3 217.2L114.5 218.1L114.7 219.1L114.9 220.1L115.1 221.1L115.3 222.1L115.6 223.0L115.8 224.0L116.0 225.0L116.2 226.0L116.5 227.0L116.7 227.9L116.9 228.9L117.2 229.9L117.4 230.9L117.7 231.9L118.0 232.9L118.2 233.8L118.5 234.8L118.8 235.8L119.1 236.8L119.4 237.8L119.7 238.7L120.0 239.7L120.3 240.7L120.6 241.7L121.0 242.6L121.3 243.6L121.7 244.6L122.0 245.6L122.4 246.5L122.8 247.5L123.2 248.5L123.6 249.4L124.0 250.4L124.4 251.4L124.8 252.3L125.3 253.3L125.7 254.2L126.2 255.2L126.7 256.2L127.2 257.1L127.7 258.1L128.2 259.0L128.7 259.9L129.2 260.8L129.8 261.6L130.4 262.5L130.9 263.3L131.5 264.1L132.1 264.8L132.7 265.5L133.4 266.2L134.0 266.8L134.7 267.3L135.3 267.8L136.0 268.3L136.7 268.7L137.4 269.0L138.1 269.3L138.9 269.5L139.6 269.6L140.4 269.6L141.2 269.6L142.0 269.5L142.8 269.3L143.6 269.1L144.4 268.9L145.2 268.5L145.9 268.2L146.7 267.8L147.5 267.4L148.2 267.0L149.0 266.5L149.7 266.0L150.4 265.5L151.1 265.0L151.7 264.5L152.3 264.0L153.0 263.4L153.6 262.9L154.1 262.3L154.7 261.7L155.2 261.0L155.7 260.4L156.2 259.7L156.7 259.0L157.1 258.3L157.6 257.6L158.0 256.9L158.5 256.1L158.9 255.3L159.3 254.5L159.8 253.7L160.2 252.9L160.6 252.0L161.1 251.2L161.5 250.3L161.9 249.4L162.4 248.5L162.8 247.6L163.2 246.7L163.7 245.7L164.1 244.8L164.5 243.8L164.9 242.9L165.3 241.9L165.8 240.9L166.2 239.9L166.6 238.9L167.0 237.9L167.4 236.9L167.8 235.9L168.2 234.9L168.6 233.9L169.0 232.9L169.4 231.9L169.7 230.9L170.1 229.9L170.5 228.9L170.8 227.9L171.2 226.9L171.5 225.9L171.9 224.9L172.2 223.9L172.5 222.9L172.9 221.9L173.2 220.9L173.5 220.0L173.8 219.0L174.1 218.0L174.4 217.0L174.7 216.1L175.0 215.1L175.3 214.2L175.5 213.2L175.8 212.2L176.1 211.3L176.3 210.3L176.6 209.4L176.9 208.4L177.1 207.5L177.4 206.5L177.6 205.6L177.9 204.6L178.1 203.7L178.3 202.7L178.6 201.8L178.8 200.8L179.0 199.9L179.2 198.9L179.5 198.0L179.7 197.0L179.9 196.1L180.1 195.1L180.3 194.2L180.5 193.3L180.7 192.3L180.9 191.4L181.2 190.4L181.4 189.5L181.6 188.5L181.8 187.6L182.0 186.6L182.2 185.7L182.3 184.7L182.5 183.7L182.7 182.8L182.9 181.8L183.1 180.9L183.3 179.9L183.5 178.9L183.7 178.0L183.9 177.0L184.1 176.0L184.3 175.1L184.5 174.1L184.7 173.1L184.9 172.1L185.1 171.2L185.2 170.2L185.4 169.2L185.6 168.2L185.8 167.2L186.0 166.3L186.2 165.3L186.4 164.3L186.6 163.3L186.8 162.3L187.0 161.3L187.2 160.3L187.4 159.3L187.6 158.4L187.8 157.4L188.0 156.4L188.2 155.4L188.4 154.4L188.6 153.4L188.8 152.4L189.1 151.4L189.3 150.4L189.5 149.4L189.7 148.4L189.9 147.5L190.1 146.5L190.4 145.5L190.6 144.5L190.8 143.5L191.0 142.5L191.3 141.5L191.5 140.5L191.8 139.6L192.0 138.6L192.2 137.6L192.5 136.6L192.7 135.6L193.0 134.6L193.2 133.7L193.5 132.7L193.7 131.7L194.0 130.7L194.3 129.8L194.5 128.8L194.8 127.8L195.1 126.9L195.4 125.9L195.6 124.9L195.9 124.0L196.2 123.0L196.5 122.1L196.8 121.1L197.1 120.2L197.4 119.2L197.7 118.3L198.0 117.4L198.3 116.4L198.6 115.5L199.0 114.6L199.3 113.7L199.6 112.8L199.9 111.9L200.2 111.0L200.6 110.1L200.9 109.2L201.3 108.3L201.6 107.4L201.9 106.6L202.3 105.7L202.6 104.9L203.0 104.0L203.3 103.2L203.7 102.4L204.1 101.6L204.4 100.8L204.8 100.0L205.2 99.2L205.5 98.4L205.9 97.6L206.3 96.9L206.7 96.1L207.1 95.4L207.5 94.7L207.9 94.0L208.3 93.4L208.7 92.8L209.1 92.2L209.6 91.7L210.0 91.2L210.5 90.8L211.0 90.4L211.5 90.1L212.0 89.8L212.5 89.7L213.0 89.5L213.6 89.5L214.2 89.5L214.8 89.6L215.4 89.8L216.0 90.0L216.6 90.3L217.2 90.6L217.8 91.0L218.4 91.4L219.0 91.9L219.6 92.4L220.1 92.9L220.6 93.5L221.1 94.1L221.6 94.7L222.1 95.3L222.5 96.0L223.0 96.6L223.4 97.3L223.8 98.0L224.3 98.8L224.7 99.5L225.1 100.3L225.5 101.0L225.9 101.8L226.3 102.6L226.7 103.4L227.1 104.2L227.5 105.0L227.9 105.8L228.3 106.7L228.7 107.5L229.1 108.4L229.5 109.3L229.9 110.1L230.3 111.0L230.7 111.9L231.1 112.8L231.5 113.7L231.9 114.6L232.3 115.5L232.7 116.4L233.1 117.4L233.5 118.3L233.9 119.2L234.3 120.2L234.8 121.1L235.2 122.1L235.6 123.0L236.0 123.9L236.4 124.9L236.9 125.9L237.3 126.8L237.8 127.8L238.2 128.7L238.7 129.7L239.1 130.6L239.6 131.6L240.1 132.5L240.6 133.5L241.0 134.5L241.5 135.4L242.0 136.4L242.6 137.3L243.1 138.2L243.6 139.2L244.1 140.1L244.7 141.0L245.2 142.0L245.8 142.9L246.4 143.8L247.0 144.7L247.6 145.6L248.2 146.5L248.8 147.4L249.4 148.3L250.0 149.2L250.6 150.1L251.3 151.0L251.9 151.9L252.6 152.8L253.2 153.7L253.9 154.5L254.5 155.4L255.2 156.3L255.8 157.2L256.5 158.1L257.1 159.0L257.8 159.9L258.4 160.8L259.1 161.7L259.8 162.6L260.4 163.5L261.1 164.4L261.7 165.3L262.3 166.2L263.0 167.1L263.6 168.0L264.2 169.0L264.8 169.9L265.5 170.8L266.1 171.7L266.7 172.6L267.3 173.5L267.9 174.4L268.5 175.2L269.1 176.0L269.6 176.8L270.2 177.5L270.8 178.2L271.4 178.9L271.9 179.4L272.5 180.0L273.0 180.5L273.6 181.0L274.1 181.5L274.7 181.9L275.3 182.4L275.8 182.8L276.4 183.3L276.9 183.7L277.5 184.2L278.1 184.7L278.6 185.3L279.2 185.8L279.8 186.4L280.4 186.9L281.0 187.5L281.5 188.1L282.1 188.7L282.7 189.3L283.3 189.9L283.9 190.6L284.5 191.2L285.1 191.9L285.7 192.5L286.3 193.2L286.8 193.9L287.4 194.5L288.0 195.2L288.6 195.9L289.2 196.6L289.8 197.3L290.4 198.0L290.9 198.7L291.5 199.3L292.1 200.0L292.7 200.7L293.2 201.4L293.8 202.1L294.4 202.8L294.9 203.5L295.5 204.1L296.0 204.8L296.6 205.5L297.1 206.1L297.7 206.8L298.2 207.4L298.8 208.1L299.3 208.7L299.8 209.3L300.4 210.0L300.9 210.6L301.5 211.2L302.0 211.8L302.5 212.4L303.1 213.1L303.6 213.7L304.2 214.3L304.7 214.9L305.3 215.5L305.8 216.1L306.4 216.6L306.9 217.2L307.5 217.8L308.1 218.4L308.7 219.0L309.3 219.5L309.9 220.1L310.5 220.7L311.1 221.2L311.7 221.8L312.3 222.4L312.9 222.9L313.6 223.5L314.2 224.0L314.9 224.6L315.6 225.1L316.3 225.7L317.0 226.2L317.7 226.8L318.4 227.3L319.1 227.9L319.9 228.4L320.6 228.9L321.4 229.5L322.2 230.0L323.0 230.6L323.8 231.1L324.7 231.6L325.5 232.2L326.3 232.7L327.2 233.3L328.1 233.8L328.9 234.4L329.8 234.9L330.7 235.5L331.6 236.1L332.5 236.7L333.4 237.2L334.3 237.8L335.2 238.4L336.2 239.1L337.1 239.7L338.0 240.3L338.9 240.9L339.9 241.6L340.8 242.3L341.7 242.9L342.7 243.6L343.6 244.3L344.5 245.0L345.4 245.8L346.4 246.5L347.3 247.3L348.2 248.0L349.1 248.8L350.0 249.6L350.9 250.4L351.7 251.1L352.6 251.9L353.4 252.6L354.2 253.4L355.0 254.1L355.7 254.8L356.4 255.5L357.1 256.1L357.8 256.8L358.4 257.4L359.0 257.9L359.6 258.5L360.2 259.1L360.8 259.6L361.4 260.2L361.9 260.8L362.5 261.4L363.0 262.0L363.6 262.6L364.2 263.3L364.8 264.0L365.5 264.7L366.1 265.5L366.7 266.3L367.4 267.1L368.0 267.9L368.7 268.7L369.4 269.6L370.1 270.5L370.7 271.3L371.4 272.3L372.1 273.2L372.8 274.1L373.5 275.1L374.2 276.0L374.9 277.0L375.5 277.9L376.2 278.9L376.9 279.9L377.6 280.9L378.2 281.9L378.9 282.8L379.5 283.8L380.2 284.8L380.8 285.8L381.4 286.8L382.0 287.7L382.6 288.7L383.2 289.6L383.8 290.6L384.3 291.5L384.9 292.5L385.4 293.4L386.0 294.3L386.5 295.2L387.0 296.2L387.5 297.1L388.0 298.0L388.5 298.9L389.0 299.8L389.5 300.7L390.0 301.6L390.4 302.6L390.9 303.5L391.4 304.4L391.8 305.3L392.3 306.2L392.8 307.1L393.2 308.1L393.7 309.0L394.1 309.9L394.6 310.9L395.0 311.8L395.5 312.8L396.0 313.7L396.4 314.7L396.9 315.6L397.4 316.6L397.8 317.6L398.3 318.5L398.7 319.5L399.2 320.5L399.7 321.5L400.1 322.5L400.6 323.4L401.0 324.4L401.5 325.4L401.9 326.4L402.4 327.4L402.9 328.3L403.3 329.3L403.7 330.3L404.2 331.2L404.6 332.2L405.0 333.2L405.5 334.1L405.9 335.1L406.3 336.0L406.7 336.9L407.1 337.8L407.6 338.7L408.0 339.7L408.3 340.5L408.7 341.4L409.1 342.3L409.5 343.2L409.9 344.0L410.2 344.9L410.6 345.7L410.9 346.5L411.3 347.3L411.6 348.1L411.9 348.9L412.2 349.6L412.5 350.4L412.8 351.1L413.2 351.9L413.5 352.6L413.8 353.5L414.2 354.3L414.5 355.2L414.9 356.2L415.4 357.2L415.8 358.3L416.3 359.4L416.8 360.6L417.3 361.8L417.9 363.0L418.4 364.3L419.0 365.7L419.6 367.0L420.2 368.4L420.8 369.8L421.4 371.2L422.0 372.6L422.6 374.1L423.3 375.5L423.9 376.9L424.5 378.3L425.1 379.8L425.8 381.2L426.4 382.6L427.0 383.9L427.6 385.3L428.2 386.7L428.8 388.0L429.4 389.3L430.0 390.7L430.6 392.0L431.2 393.3L431.7 394.6L432.3 395.9L432.9 397.1L433.5 398.4L434.1 399.7L434.7 400.9L435.3 402.2L435.9 403.5L436.5 404.7L437.1 406.0L437.7 407.2L438.3 408.4L438.9 409.7L439.5 410.9L440.1 412.2L440.7 413.4L441.3 414.6L442.0 415.9L442.6 417.1L443.2 418.4L443.9 419.6L444.5 420.8L445.2 422.1L445.9 423.4L446.6 424.6L447.3 425.9L448.0 427.2L448.7 428.5L449.4 429.8L450.1 431.0L450.8 432.3L451.6 433.7L452.3 435.0L453.1 436.3L453.9 437.6L454.6 438.9L455.4 440.2L456.2 441.6L457.0 442.9L457.8 444.2L458.5 445.5L459.3 446.8L460.1 448.2L460.9 449.5L461.8 450.8L462.6 452.1L463.4 453.4L464.2 454.7L465.0 456.0L465.8 457.3L466.6 458.6L467.4 459.9L468.2 461.1L469.0 462.4L469.8 463.6L470.6 464.9L471.4 466.1L472.2 467.3L473.0 468.6L473.8 469.8L474.6 470.9L475.4 472.1L476.2 473.3L476.9 474.4L477.7 475.6L478.5 476.7L479.2 477.8L479.9 478.9L480.7 480.0L481.4 481.0L482.1 482.1L482.9 483.1L483.6 484.2L484.3 485.2L485.0 486.2L485.7 487.2L486.4 488.2L487.1 489.2L487.8 490.2L488.5 491.1L489.2 492.1L489.9 493.1L490.5 494.0L491.2 494.9L491.9 495.9L492.6 496.8L493.2 497.7L493.9 498.7L494.6 499.6L495.3 500.5L495.9 501.4L496.6 502.3L497.3 503.2L497.9 504.1L498.6 505.0L499.3 505.9L499.9 506.8L500.6 507.7L501.3 508.6L501.9 509.5L502.6 510.4L503.3 511.3L503.9 512.2L504.6 513.1L505.3 514.0L506.0 514.9L506.6 515.8L507.3 516.7L508.0 517.6L508.6 518.5L509.3 519.4L510.0 520.3L510.7 521.2L511.4 522.1L512.0 522.9L512.7 523.8L513.4 524.7L514.1 525.6L514.8 526.5L515.4 527.4L516.1 528.3L516.8 529.1L517.5 530.0L518.2 530.9L518.9 531.8L519.6 532.7L520.3 533.5L521.0 534.4L521.7 535.3L522.4 536.2L523.1 537.0L523.8 537.9L524.5 538.8L525.2 539.6L525.9 540.5L526.6 541.4L527.3 542.2L528.0 543.1L528.7 544.0L529.5 544.8L530.2 545.7L530.9 546.6L531.6 547.4L532.4 548.3L533.1 549.1L533.8 550.0L534.6 550.8L535.3 551.7L536.0 552.5L536.8 553.4L537.5 554.2L538.3 555.1L539.0 555.9L539.8 556.8L540.5 557.6L541.3 558.5L542.0 559.3L542.8 560.1L543.6 561.0L544.3 561.8L545.1 562.6L545.9 563.5L546.7 564.3L547.5 565.1L548.2 565.9L549.0 566.8L549.8 567.6L550.6 568.4L551.4 569.2L552.2 570.0L553.0 570.8L553.8 571.6L554.6 572.4L555.4 573.2L556.2 574.0L557.0 574.8L557.9 575.5L558.7 576.3L559.5 577.1L560.3 577.9L561.2 578.6L562.0 579.4L562.8 580.1L563.7 580.9L564.5 581.6L565.4 582.4L566.2 583.1L567.1 583.8L567.9 584.5L568.8 585.3L569.6 586.0L570.5 586.7L571.4 587.4L572.2 588.1L573.1 588.8L574.0 589.4L574.8 590.1L575.7 590.8L576.6 591.4L577.5 592.1L578.4 592.8L579.3 593.4L580.2 594.0L581.1 594.7L581.9 595.3L582.8 595.9L583.7 596.6L584.6 597.2L585.5 597.8L586.4 598.4L587.3 599.0L588.2 599.6L589.1 600.2L590.0 600.8L590.9 601.3L591.8 601.9L592.7 602.5L593.6 603.1L594.5 603.6L595.4 604.2L596.3 604.8L597.2 605.3L598.1 605.9L598.9 606.4L599.8 607.0L600.7 607.5L601.6 608.0L602.5 608.6L603.3 609.1L604.2 609.6L605.0 610.2L605.9 610.7L606.7 611.2L607.6 611.7L608.4 612.2L609.3 612.6L610.1 613.1L610.9 613.6L611.7 614.0L612.5 614.5L613.3 614.9L614.1 615.4L614.9 615.8L615.6 616.2L616.4 616.6L617.1 617.0L617.9 617.4L618.6 617.8L619.3 618.1L620.0 618.5L620.7 618.8L621.4 619.2L622.1 619.5L622.8 619.8L623.4 620.1L624.1 620.4L624.7 620.7L625.4 621.0L626.0 621.3L626.7 621.6L627.3 621.8L627.9 622.1L628.5 622.4L629.2 622.7L629.8 622.9L630.4 623.2L631.0 623.4L631.6 623.7L632.2 624.0L632.8 624.2L633.4 624.5L634.0 624.7L634.6 625.0L635.3 625.3L635.9 625.5L636.5 625.8L637.1 626.1L637.7 626.4L638.3 626.6L639.0 626.9L639.6 627.2L640.2 627.5L640.8 627.8L641.5 628.1L642.1 628.5L642.8 628.8L643.4 629.1L644.1 629.4L644.8 629.8L645.4 630.1L646.1 630.4L646.8 630.8L647.4 631.1L648.1 631.5L648.8 631.8L649.5 632.2L650.2 632.5L650.8 632.9L651.5 633.2L652.2 633.5L652.9 633.9L653.6 634.2L654.3 634.5L655.0 634.9L655.7 635.2L656.4 635.5L657.1 635.8L657.8 636.1L658.5 636.4L659.2 636.7L659.9 637.0L660.5 637.3L661.2 637.6L661.9 637.9L662.6 638.1L663.3 638.4L664.0 638.6L664.7 638.8L665.4 639.0L666.1 639.2L666.7 639.4L667.4 639.6L668.1 639.8L668.8 640.0L669.4 640.1L670.1 640.3L670.8 640.4L671.5 640.6L672.2 640.8L672.9 640.9L673.6 641.1L674.4 641.3L675.1 641.5L675.8 641.7L676.6 642.0L677.4 642.2L678.2 642.5L679.0 642.8L679.8 643.1L680.6 643.4L681.5 643.8L682.3 644.1L683.2 644.5L684.1 645.0L685.0 645.4L686.0 645.8L686.9 646.3L687.8 646.8L688.8 647.2L689.7 647.7L690.7 648.2L691.7 648.7L692.6 649.1L693.6 649.6L694.6 650.1L695.5 650.5L696.5 651.0L697.4 651.4L698.4 651.8L699.4 652.3L700.3 652.7L701.3 653.1L702.3 653.5L703.2 653.9L704.2 654.3L705.2 654.7L706.1 655.1L707.1 655.5L708.1 655.9L709.1 656.2L710.0 656.6L711.0 656.9L712.0 657.3L712.9 657.6L713.9 657.9L714.9 658.2L715.9 658.5L716.8 658.8L717.8 659.1L718.8 659.4L719.8 659.7L720.7 659.9L721.7 660.2L722.7 660.4L723.7 660.7L724.6 660.9L725.6 661.1L726.6 661.3L727.6 661.5L728.5 661.7L729.5 661.9L730.5 662.0L731.5 662.2L732.4 662.3L733.4 662.5L734.4 662.6L735.4 662.7L736.4 662.8L737.3 662.9L738.3 662.9L739.3 663.0L740.3 663.0L741.3 663.1L742.2 663.1L743.2 663.1L744.2 663.1L745.2 663.1L746.2 663.1L747.1 663.1L748.1 663.0L749.1 662.9L750.0 662.9L751.0 662.8L751.9 662.7L752.8 662.6L753.7 662.5L754.6 662.3L755.5 662.2L756.3 662.0L757.2 661.8L758.0 661.6L758.8 661.4L759.6 661.2L760.4 661.0L761.1 660.8L761.8 660.5L762.5 660.2L763.2 660.0L763.8 659.7L764.4 659.4L765.1 659.0L765.6 658.7L766.2 658.4L766.8 658.0L767.4 657.7L767.9 657.3L768.5 656.9L769.0 656.5L769.6 656.1L770.1 655.7L770.7 655.3L771.3 654.8L771.8 654.4L772.4 653.9L773.0 653.5L773.7 653.0L774.3 652.5L774.9 652.1L775.6 651.6L776.3 651.1L776.9 650.7L777.6 650.2L778.3 649.8L779.0 649.4L779.7 649.0L780.4 648.6L781.1 648.3L781.8 648.0L782.5 647.7L783.2 647.5L784.0 647.4L784.7 647.2L785.4 647.1L786.0 647.1L786.7 647.2L787.4 647.2L788.1 647.4L788.8 647.6L789.4 647.8L790.1 648.1L790.7 648.4L791.4 648.8L792.0 649.2L792.7 649.6L793.3 650.1L793.9 650.6L794.6 651.1L795.2 651.7L795.8 652.2L796.4 652.8L797.0 653.4L797.6 654.0L798.2 654.6L798.8 655.3L799.4 655.9L800.0 656.5L800.6 657.2L801.2 657.8L801.8 658.4L802.4 659.1L803.0 659.7L803.6 660.3L804.2 660.9L804.8 661.5L805.4 662.1L806.1 662.7L806.7 663.3L807.3 663.9L808.0 664.4L808.6 665.0L809.2 665.5L809.9 666.0L810.6 666.5L811.3 667.0L812.0 667.4L812.7 667.8L813.4 668.2L814.1 668.6L814.8 669.0L815.6 669.3L816.3 669.6L817.1 669.9L817.9 670.2L818.6 670.5L819.4 670.8L820.2 671.0L820.9 671.2L821.7 671.4L822.5 671.6L823.3 671.8L824.1 672.0L824.9 672.2L825.7 672.3L826.5 672.4L827.3 672.6L828.1 672.7L828.9 672.8L829.8 672.9L830.6 673.0L831.4 673.1L832.3 673.1L833.2 673.2L834.0 673.3L834.9 673.3L835.8 673.4L836.7 673.4L837.6 673.4L838.6 673.4L839.5 673.5L840.4 673.5L841.4 673.5L842.4 673.5L843.3 673.5L844.3 673.5L845.2 673.6L846.2 673.6L847.1 673.6L848.1 673.6L849.0 673.6L849.9 673.6L850.8 673.7L851.7 673.7L852.6 673.8L853.4 673.8L854.3 673.9L855.1 674.0L855.9 674.0L856.6 674.1L857.3 674.2L858.0 674.3L858.7 674.5L859.3 674.6L860.0 674.8L860.6 674.9L861.3 675.1L861.9 675.3L862.6 675.4L863.4 675.6L864.2 675.8L865.0 676.0L865.8 676.1L866.7 676.3L867.6 676.5L868.5 676.6L869.5 676.8L870.4 677.0L871.4 677.1L872.4 677.2L873.5 677.4L874.5 677.5L875.5 677.6L876.6 677.7L877.6 677.8L878.6 677.9L879.7 677.9L880.7 678.0L881.8 678.1L882.8 678.1L883.9 678.2L884.9 678.2L885.9 678.3L886.9 678.3L887.9 678.4L889.0 678.4L889.9 678.5L890.9 678.5L891.9 678.6L892.9 678.6L893.9 678.7L894.8 678.8L895.8 678.8L896.7 678.9L897.7 678.9L898.7 679.0L899.6 679.0L900.6 679.1L901.5 679.1L902.5 679.2L903.4 679.2L904.4 679.3L905.3 679.3L906.3 679.4L907.3 679.4L908.2 679.5L909.2 679.5L910.2 679.5L911.2 679.6L912.2 679.6L913.2 679.6L914.2 679.7L915.2 679.7L916.2 679.7L917.3 679.8L918.3 679.8L919.4 679.8L920.4 679.8L921.5 679.9L922.6 679.9L923.7 679.9L924.8 679.9L925.9 680.0L927.1 680.0L928.2 680.0L929.4 680.0L930.5 680.0L931.7 680.0L932.9 680.1L934.1 680.1L935.3 680.1L936.6 680.1L937.8 680.1L939.1 680.2L940.4 680.2L941.7 680.2L943.0 680.2L944.3 680.3L945.7 680.3L947.0 680.3L948.4 680.3L949.8 680.4L951.2 680.4L952.6 680.4L954.0 680.5L955.4 680.5L956.9 680.5L958.3 680.6L959.8 680.6L961.2 680.6L962.7 680.7L964.2 680.7L965.6 680.7L967.1 680.8L968.6 680.8L970.0 680.9L971.5 680.9L973.0 680.9L974.4 681.0L975.9 681.0L977.3 681.1L978.8 681.1L980.2 681.1L981.6 681.2L983.0 681.2L984.4 681.2L985.8 681.3L987.2 681.3L988.6 681.3L989.9 681.4L991.2 681.4L992.5 681.4L993.8 681.5L995.1 681.5L996.3 681.5L997.5 681.5L998.7 681.6L999.9 681.6L1001.1 681.6L1002.2 681.6L1003.3 681.6L1004.3 681.6L1005.4 681.7L1006.4 681.7L1007.3 681.7L1008.3 681.7L1009.2 681.7L1010.0 681.7"/>
</g>
<g class="sans">
<text x="74.8" y="714.5" text-anchor="end">0.0</text>
<text x="74.8" y="579.7" text-anchor="end">0.2</text>
<text x="74.8" y="444.8" text-anchor="end">0.4</text>
<text x="74.8" y="309.9" text-anchor="end">0.6</text>
<text x="74.8" y="175.0" text-anchor="end">0.8</text>
<text x="74.8" y="40.1" text-anchor="end">1.0</text>
<text x="145.7" y="749" text-anchor="middle">400</text>
<text x="375.4" y="749" text-anchor="middle">500</text>
<text x="605.1" y="749" text-anchor="middle">600</text>
<text x="834.9" y="749" text-anchor="middle">700</text>
</g>
<g stroke-width="6" stroke-linecap="round">
<line x1="625" y1="292.7" x2="718.5" y2="292.7" stroke="#000"/>
<line x1="625" y1="344.6" x2="718.5" y2="344.6" stroke="#f00"/>
<line x1="625" y1="396.5" x2="718.5" y2="396.5" stroke="#00f"/>
</g>
<g class="serif" font-size="43px">
<text x="729" y="306.7">Transmittance</text>
<text x="729" y="358.6">Reflectance</text>
<text x="729" y="410.5">Absorbance</text>
</g>
<text class="serif" x="352" y="813" font-size="57px" textLength="268.5" lengthAdjust="spacing">Wavelength</text>
<text class="serif" x="633.7" y="813" font-size="57px">(nm)</text>
</svg>
</body></html>
